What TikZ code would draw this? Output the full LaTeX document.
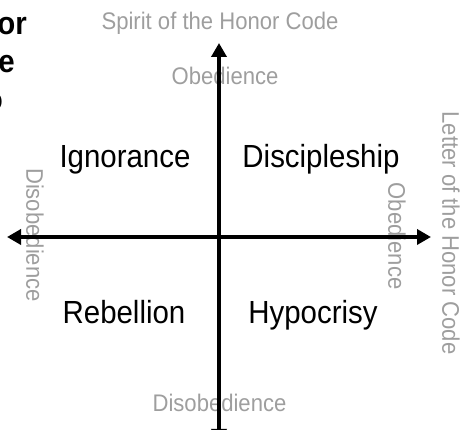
\documentclass[tikz,border=0pt]{standalone}
\usepackage{fontspec}
\setmainfont{Liberation Sans}[FakeStretch=0.92]
\usetikzlibrary{arrows.meta}
\definecolor{labelgray}{HTML}{9E9E9E}
\tikzset{
  axis/.style={line width=3.6pt, {Triangle[length=14pt,width=15pt]}-{Triangle[length=14pt,width=15pt]}},
  quad/.style={anchor=base, inner sep=0pt, font=\fontsize{32}{38}\selectfont},
  glabel/.style={anchor=base, inner sep=0pt, text=labelgray, font=\fontsize{24}{28}\selectfont},
  cut/.style={anchor=base east, inner sep=0pt, font=\fontsize{32}{38}\selectfont\bfseries}
}
\begin{document}
\begin{tikzpicture}[x=1pt,y=-1pt]
\useasboundingbox (0,0) rectangle (464,430);
% axes
\coordinate (L) at (7,237);
\coordinate (R) at (431,237);
\coordinate (T) at (219,43);
\coordinate (B) at (219,443);
% gray labels (drawn before axes so axes lie over them)
\node[glabel] (spirit) at (220,30) {Spirit of the Honor Code};
\node[glabel] (obtop) at (225,85) {Obedience};
\node[glabel] (disbot) at (219.5,412) {Disobedience};
\node[glabel, rotate=-90, anchor=center] (disleft) at (35,235) {Disobedience};
\node[glabel, rotate=-90, anchor=center] (obright) at (397,236) {Obedience};
\node[glabel, rotate=-90, anchor=center] (letter) at (451,233) {Letter of the Honor Code};
\draw[axis] (L) -- (R);
\draw[axis] (B) -- (T);
% quadrant labels
\node[quad] (ign) at (125,168) {Ignorance};
\node[quad] (disc) at (321,168) {Discipleship};
\node[quad] (reb) at (124,324) {Rebellion};
\node[quad] (hyp) at (313,324) {Hypocrisy};
% cut-off title at top left
\node[cut] (t1) at (27,35) {or};
\node[cut] (t2) at (15,73) {e};
\node[cut] (t3) at (3,111) {o};
\end{tikzpicture}
\end{document}
